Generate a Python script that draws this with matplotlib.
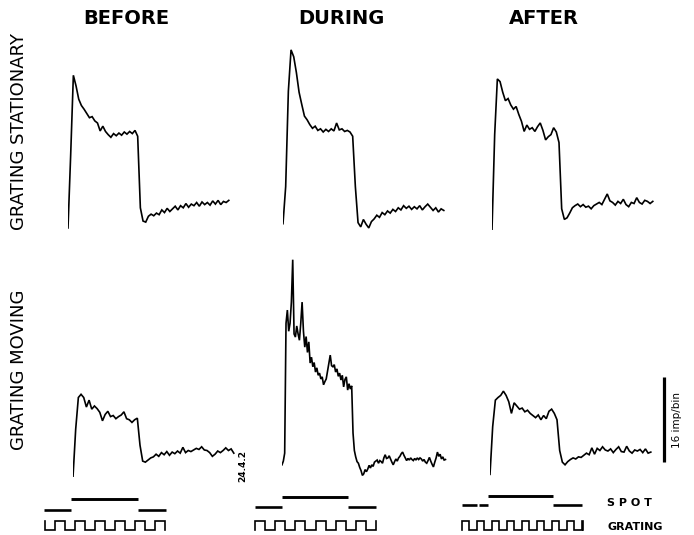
import numpy as np
import matplotlib
matplotlib.use("Agg")
import matplotlib.pyplot as plt

# ---------------- data (imp/bin) ----------------
DT = 0.04          # s per sample
DT_FINE = 0.02

stat_before = [0.2, 14, 29, 27, 24.5, 23.3, 22.6, 21.8, 21.0, 21.2, 20.4, 20.0, 18.5, 19.4, 18.4,
               17.8, 17.3, 18.0, 17.6, 18.1, 17.7, 18.3, 17.9, 18.4, 18.0, 18.6, 17.5, 4, 1.5, 1.3,
               2.4, 2.8, 2.5, 3.0, 2.7, 3.6, 3.1, 3.9, 3.3, 3.8, 4.3, 3.6, 4.4, 4.0, 4.8, 4.1, 4.7,
               4.4, 5.0, 4.3, 5.1, 4.6, 5.0, 4.5, 5.3, 4.7, 5.4, 4.6, 5.2, 5.0, 5.4]
stat_during = [1.0, 8, 26, 33.8, 32.5, 29.5, 25.8, 23.5, 21.3, 20.6, 19.7, 19.0, 19.4, 18.6, 18.9,
               18.3, 18.8, 18.4, 18.9, 18.5, 20.0, 18.7, 18.9, 18.4, 18.6, 18.3, 17.5, 8, 1.2, 0.4,
               1.8, 0.9, 0.2, 1.4, 1.9, 2.6, 2.2, 3.1, 2.7, 3.4, 3.0, 3.7, 3.3, 4.0, 3.6, 4.4, 3.9,
               4.3, 3.7, 4.2, 3.8, 4.4, 3.6, 4.2, 4.7, 4.1, 3.5, 4.0, 3.2, 3.8, 3.5]
stat_after = [0, 18, 28.5, 28, 26, 24.4, 24.8, 23.6, 22.8, 23.3, 21.8, 20.5, 18.6, 19.8, 19.0,
              19.3, 18.6, 19.5, 20.2, 18.8, 17.0, 17.6, 18.0, 19.3, 18.5, 16.5, 4, 2.0, 2.3, 3.2,
              4.2, 4.6, 4.9, 4.4, 4.8, 4.3, 4.5, 4.0, 4.6, 4.9, 5.2, 4.8, 5.8, 6.8, 5.5, 5.2, 4.7,
              5.4, 5.0, 5.8, 4.8, 4.4, 5.2, 5.0, 6.1, 5.2, 4.9, 5.6, 5.4, 5.0, 5.4]
mov_before = [0, 9, 15.0, 15.6, 15.0, 13.2, 14.5, 12.8, 13.4, 12.9, 12.2, 10.6, 11.8, 12.4, 11.4,
              11.6, 11.0, 11.4, 11.7, 12.3, 11.0, 10.8, 10.3, 10.8, 11.1, 6, 3.0, 2.8, 3.2, 3.6,
              3.8, 4.3, 3.9, 4.6, 4.2, 4.8, 4.1, 4.7, 4.4, 4.9, 4.5, 5.6, 4.6, 5.0, 4.8, 5.1, 5.4,
              5.2, 5.7, 5.1, 5.0, 4.6, 3.9, 4.3, 4.9, 4.6, 5.0, 5.5, 5.0, 5.3, 4.5]
mov_during = [2.3, 3.0, 4.5, 29, 31.5, 27.5, 29.0, 33, 41, 27, 26.4, 28.5, 27.0, 25.8, 29, 33,
              27.5, 24.5, 26.5, 23.5, 25.5, 21.5, 22.6, 20.8, 21.6, 19.8, 20.6, 19.2, 19.6, 18.5,
              18.9, 17.4, 18.0, 18.5, 20.0, 21.5, 23, 21, 20.8, 21.2, 19.8, 20.4, 19.0, 19.6, 18.3,
              19.2, 17.0, 18.4, 18.9, 16.4, 17.6, 16.6, 17.2, 8.3, 5.0, 3.8, 2.9, 2.6, 1.8, 1.2,
              0.3, 0.6, 1.4, 1.0, 1.5, 2.2, 1.7, 2.3, 2.0, 2.8, 3.0, 3.2, 2.6, 3.1, 2.9, 2.6, 3.6,
              4.2, 3.5, 3.6, 4.0, 3.4, 2.8, 2.3, 2.9, 3.4, 3.0, 3.6, 3.9, 4.4, 4.7, 4.1, 3.6, 3.1,
              3.5, 3.2, 3.6, 3.3, 3.1, 3.5, 3.2, 3.6, 3.3, 3.6, 3.4, 3.0, 3.3, 2.8, 2.6, 3.1, 3.7,
              3.0, 2.4, 1.9, 2.8, 3.6, 4.7, 3.9, 4.3, 3.4, 3.8, 3.2, 3.3]
mov_after = [0.5, 9.5, 14.5, 15.0, 15.4, 16.2, 15.4, 14.2, 12.0, 14.0, 13.4, 12.8, 13.0, 12.3, 12.6,
             12.0, 11.6, 11.2, 11.7, 10.8, 11.6, 11.0, 12.4, 12.8, 12.0, 10.8, 5, 2.8, 2.3, 2.9,
             3.3, 3.6, 3.4, 3.8, 3.7, 4.1, 4.5, 4.2, 5.5, 4.3, 5.4, 5.0, 5.7, 5.1, 4.9, 5.3, 4.6,
             5.2, 5.7, 4.8, 4.7, 5.8, 4.9, 4.5, 5.1, 4.9, 5.2, 4.6, 5.3, 4.5, 4.7]

columns = ["BEFORE", "DURING", "AFTER"]
rows = ["GRATING STATIONARY", "GRATING MOVING"]
scale_bar = 16  # imp/bin

# stimulus timing (s, relative to spot onset)
spot_low = {"BEFORE": [(-0.40, 0.0), (1.0, 1.42)],
            "DURING": [(-0.40, 0.0), (0.985, 1.40)],
            "AFTER": [(-0.39, -0.16), (-0.13, 0.0), (0.97, 1.40)]}
spot_high = {"BEFORE": [(0.0, 1.0)], "DURING": [(0.0, 0.985)], "AFTER": [(0.0, 0.97)]}
grating_start = {"BEFORE": -0.39, "DURING": -0.40, "AFTER": -0.39}
grating_stop = {"BEFORE": 1.40, "DURING": 1.40, "AFTER": 1.42}
grating_half = {"BEFORE": 0.15, "DURING": 0.15, "AFTER": 0.112}
grating_first = {"BEFORE": 0, "DURING": 1, "AFTER": 1}

# ---------------- layout ----------------
W, H = 694, 535
fig = plt.figure(figsize=(W / 100, H / 100), dpi=100)
fig.patch.set_facecolor("white")
PX_T = 67.0   # px per s
PX_V = 5.3    # px per imp/bin
PX_S = 9.0    # px per stimulus unit


def make_ax(x0, y0, px_x, px_y, xlim, ylim):
    left = x0 + xlim[0] * px_x
    width = (xlim[1] - xlim[0]) * px_x
    bottom = y0 - ylim[0] * px_y
    height = (ylim[1] - ylim[0]) * px_y
    ax = fig.add_axes([left / W, 1 - bottom / H, width / W, height / H])
    ax.set_xlim(xlim)
    ax.set_ylim(ylim)
    ax.axis("off")
    return ax


anchors = {
    ("GRATING STATIONARY", "BEFORE"): (68, 229),
    ("GRATING STATIONARY", "DURING"): (283, 229),
    ("GRATING STATIONARY", "AFTER"): (492, 230),
    ("GRATING MOVING", "BEFORE"): (73, 477),
    ("GRATING MOVING", "DURING"): (282, 477),
    ("GRATING MOVING", "AFTER"): (490, 477),
}
traces = {
    ("GRATING STATIONARY", "BEFORE"): (stat_before, DT),
    ("GRATING STATIONARY", "DURING"): (stat_during, DT),
    ("GRATING STATIONARY", "AFTER"): (stat_after, DT),
    ("GRATING MOVING", "BEFORE"): (mov_before, DT),
    ("GRATING MOVING", "DURING"): (mov_during, DT_FINE),
    ("GRATING MOVING", "AFTER"): (mov_after, DT),
}

axes = {}
for key, (x0, y0) in anchors.items():
    ax = make_ax(x0, y0, PX_T, PX_V, (0, 2.5), (0, 44))
    vals, dt = traces[key]
    t = np.arange(len(vals)) * dt
    ax.plot(t, vals, color="black", lw=1.2, solid_joinstyle="miter")
    axes[key] = ax

# scale bar
axb = axes[("GRATING MOVING", "AFTER")]
axb.plot([2.6, 2.6], [2.8, 2.8 + scale_bar], color="black", lw=2.3, clip_on=False,
         solid_capstyle="butt")
axb.text(2.79, 2.8 + scale_bar / 2, f"{scale_bar} imp/bin", rotation=90, ha="center",
         va="center", fontsize=7.5, family="DejaVu Sans", clip_on=False)

# stimulus markers
stim_anchor = {"BEFORE": (71, 530), "DURING": (282, 530), "AFTER": (488, 530)}
spot_levels = {"BEFORE": (2.25, 3.45), "DURING": (2.55, 3.65), "AFTER": (2.8, 3.75)}
for col in columns:
    x0, y0 = stim_anchor[col]
    ax = make_ax(x0, y0, PX_T, PX_S, (-0.5, 2.0), (-0.5, 4.5))
    lo, hi = spot_levels[col]
    for a, b in spot_low[col]:
        ax.plot([a, b], [lo, lo], color="black", lw=1.9, solid_capstyle="butt")
    for a, b in spot_high[col]:
        ax.plot([a, b], [hi, hi], color="black", lw=2.1, solid_capstyle="butt")
    edges = list(np.arange(grating_start[col], grating_stop[col] - 1e-6, grating_half[col]))
    edges.append(grating_stop[col])
    lev = grating_first[col]
    xs = [edges[0]]
    ys = [1 - lev]
    for k in range(len(edges) - 1):
        xs += [edges[k], edges[k + 1]]
        ys += [lev, lev]
        lev = 1 - lev
    xs.append(edges[-1])
    ys.append(lev)
    ax.plot(xs, ys, color="black", lw=1.2, solid_joinstyle="miter")
    if col == "BEFORE":
        ax.text(2.57, 7.1, "24.4.2", rotation=90, ha="center", va="center",
                fontsize=6.5, fontweight="bold", family="DejaVu Sans", clip_on=False)
    if col == "AFTER":
        ax.text(1.78, lo + 0.2, "S P O T", ha="left", va="center", fontsize=8,
                fontweight="bold", family="DejaVu Sans")
        ax.text(1.78, 0.3, "GRATING", ha="left", va="center", fontsize=8,
                fontweight="bold", family="DejaVu Sans")

# titles
title_x = {"BEFORE": 126, "DURING": 341, "AFTER": 544}
for col in columns:
    fig.text(title_x[col] / W, 1 - 18 / H, col, ha="center", va="center", fontsize=14,
             fontweight="bold", family="DejaVu Sans")
row_y = {"GRATING STATIONARY": 132, "GRATING MOVING": 370}
for r in rows:
    fig.text(19 / W, 1 - row_y[r] / H, r, rotation=90, ha="center", va="center",
             fontsize=13, family="DejaVu Sans")

fig.savefig("out.png", dpi=100, facecolor="white")
